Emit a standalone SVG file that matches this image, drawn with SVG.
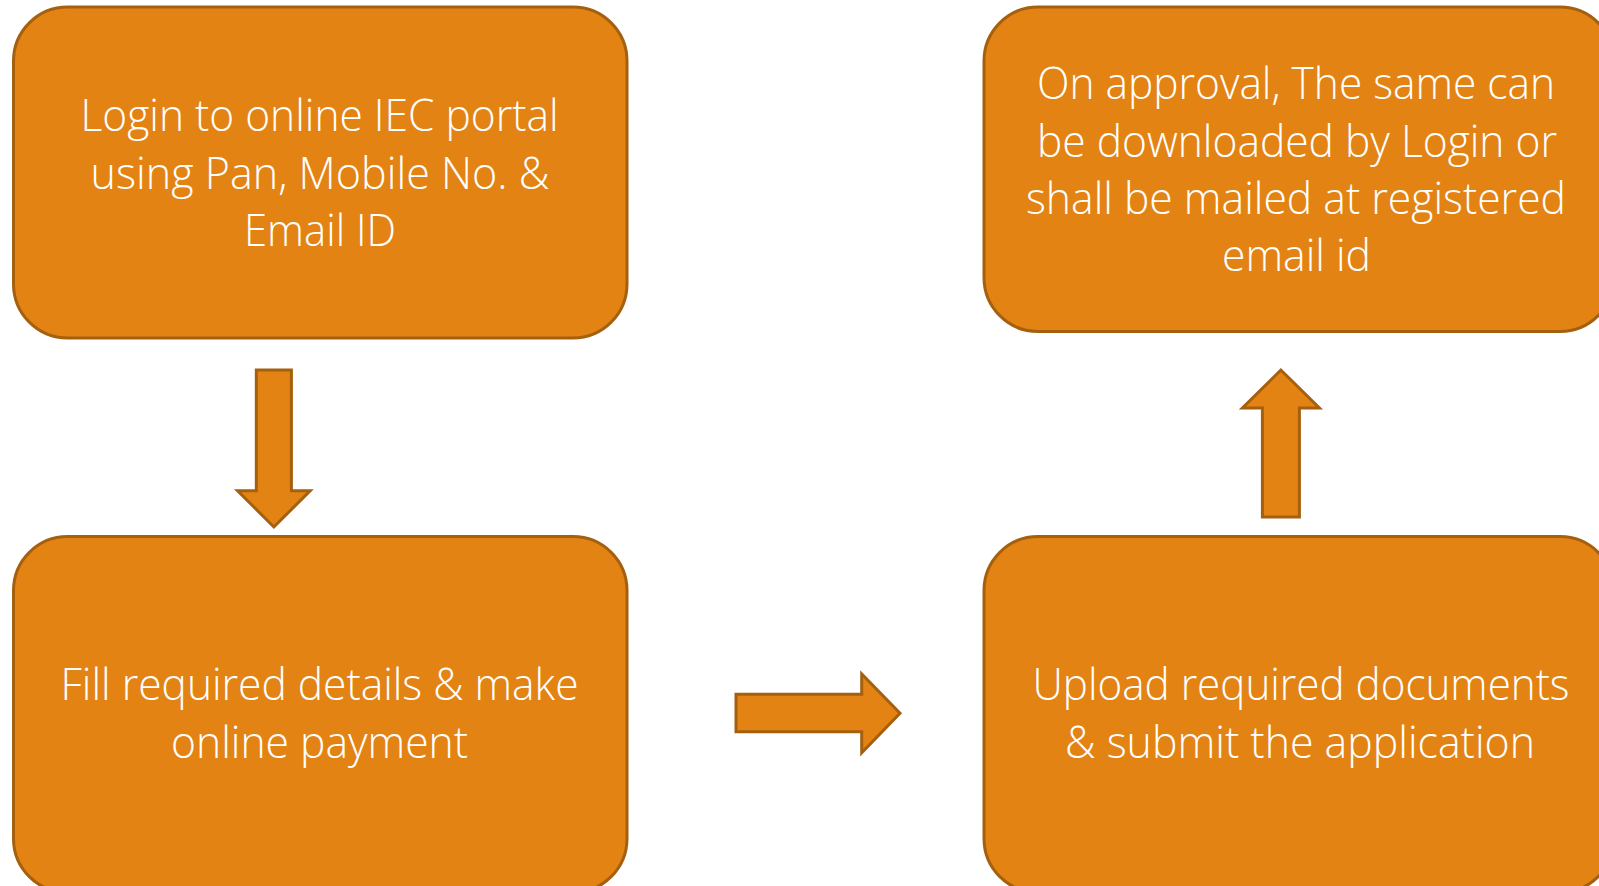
<svg xmlns="http://www.w3.org/2000/svg" width="1599" height="886" viewBox="0 0 1599 886">
<style>
.box{fill:#E38314;stroke:#A5600F;stroke-width:3}
.arr{fill:#E38314;stroke:#A5600F;stroke-width:3;stroke-linejoin:miter}
.t{font-family:"Open Sans","Liberation Sans",sans-serif;font-weight:300;font-size:44px;fill:#FFFFFF;text-anchor:middle}
</style>
<rect width="1599" height="886" fill="#FFFFFF"/>
<g id="n1">
<rect class="box" x="13.5" y="7" width="613.5" height="331" rx="54" ry="54"/>
<text class="t" x="319.5" y="131" textLength="478" lengthAdjust="spacingAndGlyphs">Login to online IEC portal</text>
<text class="t" x="320" y="189" textLength="459" lengthAdjust="spacingAndGlyphs">using Pan, Mobile No. &amp;</text>
<text class="t" x="320" y="246" textLength="152" lengthAdjust="spacingAndGlyphs">Email ID</text>
</g>
<g id="n2">
<rect class="box" x="13.5" y="536.5" width="613.5" height="356" rx="54" ry="54"/>
<text class="t" x="319.5" y="700" textLength="518" lengthAdjust="spacingAndGlyphs">Fill required details &amp; make</text>
<text class="t" x="319.5" y="758" textLength="297" lengthAdjust="spacingAndGlyphs">online payment</text>
</g>
<g id="n3">
<rect class="box" x="984" y="7" width="630" height="324.5" rx="54" ry="54"/>
<text class="t" x="1296" y="99" textLength="518" lengthAdjust="spacingAndGlyphs">On approval, The same can</text>
<text class="t" x="1297" y="157" textLength="520" lengthAdjust="spacingAndGlyphs">be downloaded by Login or</text>
<text class="t" x="1296" y="214" textLength="540" lengthAdjust="spacingAndGlyphs">shall be mailed at registered</text>
<text class="t" x="1296.5" y="271" textLength="149" lengthAdjust="spacingAndGlyphs">email id</text>
</g>
<g id="n4">
<rect class="box" x="984" y="536.5" width="630" height="356" rx="54" ry="54"/>
<text class="t" x="1301" y="700" textLength="537" lengthAdjust="spacingAndGlyphs">Upload required documents</text>
<text class="t" x="1300" y="758" textLength="470" lengthAdjust="spacingAndGlyphs">&amp; submit the application</text>
</g>
<g id="connectors">
<polygon class="arr" points="256.3,370 291.4,370 291.4,490.7 310.2,490.7 273.9,527 237.6,490.7 256.3,490.7"/>
<polygon class="arr" points="736,694.3 861.7,694.3 861.7,674 900,713.3 861.7,752.7 861.7,731.7 736,731.7"/>
<polygon class="arr" points="1262.4,517 1299.4,517 1299.4,408 1319.4,408 1280.9,370 1242.4,408 1262.4,408"/>
</g>
</svg>
